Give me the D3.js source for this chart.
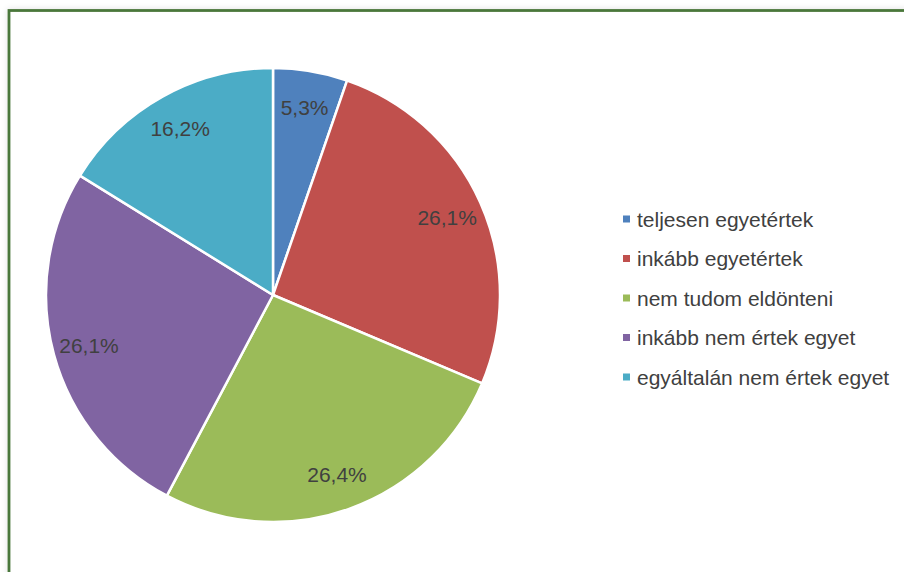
<!DOCTYPE html>
<html>
<head>
<meta charset="utf-8">
<script src="https://cdn.jsdelivr.net/npm/d3@7"></script>
<style>
  html, body { margin: 0; padding: 0; background: #ffffff; }
  svg { display: block; }
</style>
</head>
<body>
<svg id="chart" width="904" height="572"></svg>
<script>
// Survey answers (share of respondents, %)
const categories = [
  "teljesen egyetértek",
  "inkább egyetértek",
  "nem tudom eldönteni",
  "inkább nem értek egyet",
  "egyáltalán nem értek egyet"
];
const values = [5.3, 26.1, 26.4, 26.1, 16.2];
const valueLabels = ["5,3%", "26,1%", "26,4%", "26,1%", "16,2%"];
const colors = ["#4f81bd", "#c0504d", "#9bbb59", "#8064a2", "#4bacc6"];

const svg = d3.select("#chart");
const W = 904, H = 572;

// soft shadow behind the frame
const defs = svg.append("defs");
const f = defs.append("filter").attr("id", "frameShadow")
  .attr("x", "-5%").attr("y", "-5%").attr("width", "110%").attr("height", "110%");
f.append("feGaussianBlur").attr("in", "SourceAlpha").attr("stdDeviation", 3).attr("result", "b");
f.append("feFlood").attr("flood-color", "#000").attr("flood-opacity", 0.12).attr("result", "c");
f.append("feComposite").attr("in", "c").attr("in2", "b").attr("operator", "in").attr("result", "s");
const m = f.append("feMerge");
m.append("feMergeNode").attr("in", "s");
m.append("feMergeNode").attr("in", "SourceGraphic");

// frame
svg.append("rect")
  .attr("x", 9).attr("y", 10.5)
  .attr("width", W + 20).attr("height", H + 20)
  .attr("fill", "#ffffff")
  .attr("stroke", "#4a773b")
  .attr("stroke-width", 2.8)
  .attr("filter", "url(#frameShadow)");

// pie
const cx = 273, cy = 295, R = 227;
const pie = d3.pie().sort(null).value(d => d)(values);
const arc = d3.arc().innerRadius(0).outerRadius(R);
const labelArc = d3.arc().innerRadius(R * 0.84).outerRadius(R * 0.84);

const g = svg.append("g").attr("transform", `translate(${cx},${cy})`);
g.selectAll("path.slice")
  .data(pie)
  .join("path")
  .attr("class", "slice")
  .attr("d", arc)
  .attr("fill", (d, i) => colors[i])
  .attr("stroke", "#ffffff")
  .attr("stroke-width", 2.5)
  .attr("stroke-linejoin", "round");

g.selectAll("text.val")
  .data(pie)
  .join("text")
  .attr("class", "val")
  .attr("transform", d => `translate(${labelArc.centroid(d)})`)
  .attr("text-anchor", "middle")
  .attr("dy", "0.36em")
  .attr("font-family", "Liberation Sans, Arial, sans-serif")
  .attr("font-size", 21)
  .attr("fill", "#404040")
  .text((d, i) => valueLabels[i]);

// legend
const legendY = d3.scalePoint().domain(categories).range([219, 377]);
const lg = svg.append("g");
const rows = lg.selectAll("g.row")
  .data(categories)
  .join("g")
  .attr("class", "row")
  .attr("transform", d => `translate(623,${legendY(d)})`);
rows.append("rect")
  .attr("x", 0).attr("y", -3.5)
  .attr("width", 7).attr("height", 7)
  .attr("fill", (d, i) => colors[i]);
rows.append("text")
  .attr("x", 14)
  .attr("dy", "0.36em")
  .attr("font-family", "Liberation Sans, Arial, sans-serif")
  .attr("font-size", 21)
  .attr("fill", "#404040")
  .text(d => d);
</script>
</body>
</html>
